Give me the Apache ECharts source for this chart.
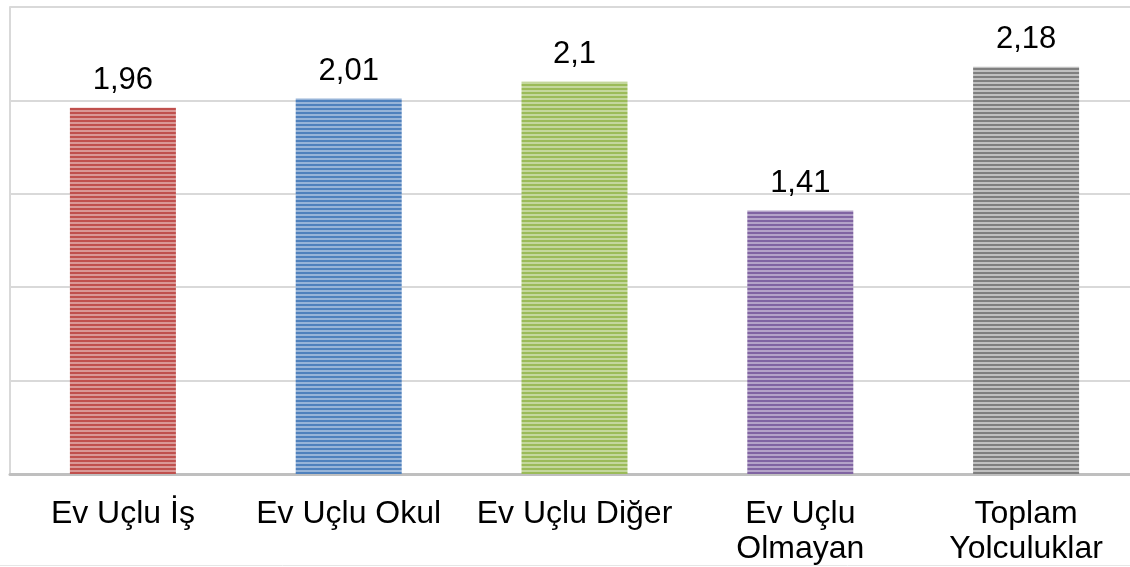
<!DOCTYPE html>
<html>
<head>
<meta charset="utf-8">
<script src="https://cdn.jsdelivr.net/npm/echarts@6/dist/echarts.min.js"></script>
<style>
  html, body { margin: 0; padding: 0; background: #fff; overflow: hidden; }
  /* plot area runs a little past the right edge of the window, as in the source */
  #chart { width: 1139px; height: 567px; }
</style>
</head>
<body>
<div id="chart"></div>
<script>
    // data
    const categories = ['Ev Uçlu İş', 'Ev Uçlu Okul', 'Ev Uçlu Diğer', 'Ev Uçlu\nOlmayan', 'Toplam\nYolculuklar'];
    const values = [1.96, 2.01, 2.1, 1.41, 2.18];
    const darkColors = ['#C0504D', '#4F81BD', '#9BBB59', '#8064A2', '#7F7F7F'];
    const lightColors = ['#DA9896', '#97B4D8', '#C4D79D', '#B4A3C8', '#C0C0C0'];

    // horizontal stripes like the office "narrow horizontal" fill
    function stripes(dark, light) {
        const c = document.createElement('canvas');
        c.width = 4;
        c.height = 4;
        const ctx = c.getContext('2d');
        ctx.fillStyle = light;
        ctx.fillRect(0, 0, 4, 4);
        ctx.fillStyle = dark;
        ctx.fillRect(0, 0, 4, 2);
        return { image: c, repeat: 'repeat' };
    }

    const chart = echarts.init(document.getElementById('chart'), null, { renderer: 'canvas' });

    let option = {
        animation: false,
        textStyle: { fontFamily: 'Liberation Sans, Arial, sans-serif' },
        grid: {
            left: 10,
            right: 0,
            top: 7,
            bottom: 93,
            containLabel: false
        },
        xAxis: {
            type: 'category',
            data: categories,
            axisTick: { show: false },
            axisLine: { lineStyle: { color: '#BFBFBF', width: 3 } },
            axisLabel: {
                color: '#000',
                fontSize: 32,
                lineHeight: 35,
                margin: 23,
                interval: 0
            }
        },
        yAxis: {
            type: 'value',
            min: 0,
            max: 2.5,
            interval: 0.5,
            axisLabel: { show: false },
            axisTick: { show: false },
            axisLine: { show: true, lineStyle: { color: '#D9D9D9', width: 2 } },
            splitLine: { lineStyle: { color: '#D9D9D9', width: 2 } }
        },
        series: [
            {
                type: 'bar',
                barWidth: 106,
                data: values.map((v, i) => ({
                    value: v,
                    itemStyle: { color: stripes(darkColors[i], lightColors[i]) }
                })),
                label: {
                    show: true,
                    position: 'top',
                    distance: 12,
                    fontSize: 31,
                    color: '#000',
                    formatter: (p) => String(p.value).replace('.', ',')
                }
            }
        ],
        graphic: [
            {
                type: 'line',
                shape: { x1: 0, y1: 565.5, x2: 1130, y2: 565.5 },
                style: { stroke: '#E6E6E6', lineWidth: 1 }
            }
        ]
    };

    chart.setOption(option);
</script>
</body>
</html>
